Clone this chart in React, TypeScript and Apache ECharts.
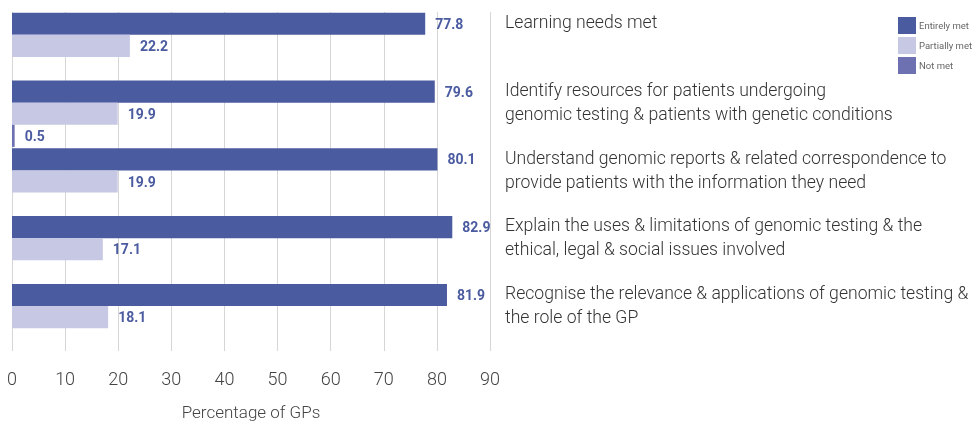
import React, { useEffect, useRef } from "react";
import * as echarts from "echarts";

const categories = [
  "Learning needs met",
  "Identify resources for patients undergoing\ngenomic testing & patients with genetic conditions",
  "Understand genomic reports & related correspondence to\nprovide patients with the information they need",
  "Explain the uses & limitations of genomic testing & the\nethical, legal & social issues involved",
  "Recognise the relevance & applications of genomic testing &\nthe role of the GP",
];
const entirelyMet = [77.8, 79.6, 80.1, 82.9, 81.9];
const partiallyMet = [22.2, 19.9, 19.9, 17.1, 18.1];
const notMet = [0, 0.5, 0, 0, 0];
const xTicks = [0, 10, 20, 30, 40, 50, 60, 70, 80, 90];

const DARK = "#4b5ba0";
const LIGHT = "#c6c8e4";
const MID = "#6e71b1";
const FONT = "Roboto";

export default function App() {
  const ref = useRef<HTMLDivElement>(null);
  useEffect(() => {
    if (!ref.current) return;
    const chart = echarts.init(ref.current, undefined, { renderer: "svg" });
    const valueLabel = {
      show: true,
      position: "right" as const,
      distance: 10,
      color: DARK,
      fontFamily: FONT,
      fontWeight: "bold" as const,
      fontSize: 14,
      formatter: (p: any) => (p.value ? String(p.value) : ""),
    };
    chart.setOption({
      animation: false,
      textStyle: { fontFamily: FONT },
      legend: {
        orient: "vertical",
        left: 893,
        top: 12,
        itemWidth: 18,
        itemHeight: 17,
        itemGap: 3,
        icon: "rect",
        textStyle: { fontSize: 9.5, color: "#666", fontFamily: FONT, padding: [0, 0, 0, -2] },
        data: ["Entirely met", "Partially met", "Not met"],
      },
      grid: {
        left: 12,
        right: 486,
        top: 12,
        bottom: 70,
        containLabel: false,
        outerBoundsMode: "none",
      },
      xAxis: {
        type: "value",
        min: 0,
        max: 90,
        interval: 10,
        axisLine: { show: false },
        axisTick: { show: false },
        splitLine: { show: true, lineStyle: { color: "#d6d6d6", width: 1 } },
        axisLabel: {
          color: "#444",
          fontSize: 18,
          fontWeight: 300,
          fontFamily: FONT,
          margin: 18,
          formatter: (v: number) => (xTicks.includes(v) ? String(v) : ""),
        },
        name: "Percentage of GPs",
        nameLocation: "middle",
        nameGap: 52,
        nameTextStyle: { color: "#444", fontSize: 17, fontWeight: 300, fontFamily: FONT },
      },
      yAxis: {
        type: "category",
        data: categories,
        inverse: true,
        position: "right",
        axisLine: { show: false },
        axisTick: { show: false },
        splitLine: { show: false },
        axisLabel: {
          interval: 0,
          hideOverlap: false,
          color: "#333",
          fontSize: 17.6,
          fontWeight: 300,
          fontFamily: FONT,
          lineHeight: 24,
          margin: 15,
          align: "left",
          verticalAlign: "middle",
          formatter: (v: string) => (v.includes("\n") ? v + "\n " : v + "\n \n "),
        },
      },
      series: [
        {
          name: "Entirely met",
          type: "bar",
          data: entirelyMet,
          itemStyle: { color: DARK },
          barGap: "0%",
          barCategoryGap: "2%",
          label: valueLabel,
        },
        {
          name: "Partially met",
          type: "bar",
          data: partiallyMet,
          itemStyle: { color: LIGHT },
          barGap: "0%",
          barCategoryGap: "2%",
          label: valueLabel,
        },
        {
          name: "Not met",
          type: "bar",
          data: notMet,
          itemStyle: { color: MID },
          barGap: "0%",
          barCategoryGap: "2%",
          label: valueLabel,
        },
      ],
    });
    return () => chart.dispose();
  }, []);
  return (
    <div
      ref={ref}
      style={{ position: "fixed", left: 0, top: 0, width: 976, height: 421 }}
    />
  );
}
